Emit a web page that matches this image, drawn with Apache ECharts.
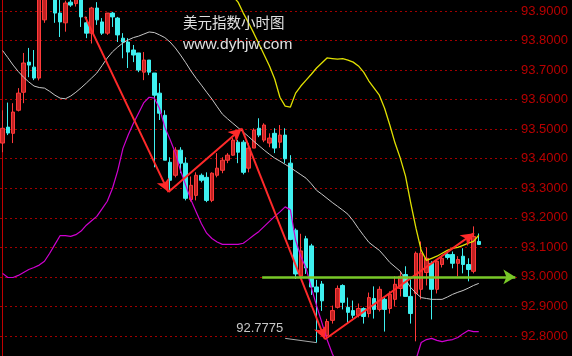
<!DOCTYPE html>
<html><head><meta charset="utf-8">
<script src="https://cdn.jsdelivr.net/npm/echarts@6/dist/echarts.min.js"></script>
<style>html,body{margin:0;padding:0;background:#000}#c{width:572px;height:356px}</style>
</head><body><div id="c"></div><script>
// ---------- data ----------
const categoryCount = 99;
const categories = Array.from({length: categoryCount}, (_, i) => 'H' + (i + 1));

// [open, close, low, high]
const candles = [
[93.453,93.503,93.422,93.564],[93.507,93.487,93.480,93.590],[93.486,93.558,93.453,93.588],[93.564,93.622,93.560,93.639],
[93.625,93.724,93.588,93.758],[93.727,93.717,93.676,93.775],[93.710,93.673,93.666,93.768],[93.673,93.960,93.665,94.000],
[93.870,93.950,93.860,93.980],[93.960,94.000,93.945,94.030],[93.960,93.893,93.860,93.990],[93.893,93.863,93.812,93.950],
[93.860,93.927,93.830,93.935],[93.930,93.920,93.914,93.970],[93.925,93.960,93.915,93.990],[93.950,93.880,93.846,93.980],
[93.860,93.825,93.808,93.880],[93.825,93.910,93.790,93.914],[93.910,93.870,93.853,93.930],[93.863,93.825,93.819,93.876],
[93.825,93.893,93.819,93.893],[93.893,93.880,93.846,93.897],[93.876,93.819,93.795,93.880],[93.808,93.795,93.740,93.825],
[93.795,93.761,93.707,93.808],[93.768,93.751,93.727,93.785],[93.758,93.700,93.693,93.758],[93.693,93.734,93.666,93.761],
[93.734,93.693,93.683,93.734],[93.690,93.615,93.371,93.690],[93.622,93.554,93.531,93.656],[93.547,93.395,93.395,93.564],
[93.388,93.327,93.293,93.405],[93.344,93.429,93.337,93.439],[93.429,93.385,93.351,93.439],[93.385,93.266,93.259,93.405],
[93.262,93.310,93.255,93.340],[93.276,93.344,93.259,93.354],[93.344,93.327,93.320,93.350],[93.337,93.259,93.253,93.354],
[93.259,93.351,93.253,93.354],[93.344,93.368,93.337,93.419],[93.361,93.395,93.351,93.405],[93.395,93.412,93.385,93.419],
[93.412,93.463,93.410,93.470],[93.456,93.422,93.385,93.463],[93.456,93.354,93.347,93.463],[93.368,93.436,93.354,93.453],
[93.436,93.497,93.436,93.503],[93.503,93.480,93.473,93.537],[93.463,93.514,93.456,93.520],[93.453,93.470,93.439,93.486],
[93.486,93.436,93.419,93.503],[93.456,93.480,93.436,93.514],[93.480,93.400,93.385,93.503],[93.385,93.127,93.124,93.412],
[93.158,93.010,92.993,93.164],[93.003,93.088,92.993,93.146],[93.129,93.030,93.010,93.139],[93.105,92.966,92.939,93.112],
[92.966,92.949,92.7775,92.990],[92.976,92.919,92.885,92.986],[92.802,92.849,92.792,92.858],[92.853,92.886,92.842,92.903],
[92.897,92.961,92.893,92.971],[92.971,92.914,92.890,92.975],[92.897,92.880,92.842,92.930],[92.886,92.870,92.860,92.920],
[92.870,92.893,92.863,92.910],[92.893,92.866,92.842,92.897],[92.876,92.930,92.863,92.947],[92.927,92.890,92.859,92.968],
[92.890,92.958,92.883,92.968],[92.924,92.890,92.815,92.930],[92.893,92.941,92.876,92.951],[92.924,92.975,92.900,93.002],
[92.961,93.002,92.934,93.019],[93.008,92.934,92.934,93.036],[92.934,92.876,92.842,92.992],[92.944,93.080,92.782,93.086],
[92.958,93.080,92.924,93.120],[93.015,93.063,92.971,93.100],[93.046,92.958,92.856,93.053],[92.958,93.053,92.944,93.059],
[93.042,93.063,93.032,93.073],[93.076,93.066,93.059,93.080],[93.076,93.046,93.029,93.086],[93.046,93.059,93.002,93.070],
[93.070,93.042,93.012,93.097],[93.042,93.025,92.985,93.063],[93.019,93.137,93.012,93.171],[93.120,93.110,93.110,93.147]
];

// Bollinger-style bands
const midBand = [
93.766,93.742,93.717,93.695,93.676,93.660,93.646,93.641,93.639,93.628,93.615,93.605,93.603,93.612,93.625,93.640,
93.656,93.673,93.690,93.715,93.741,93.762,93.778,93.792,93.802,93.810,93.815,93.822,93.829,93.827,93.819,93.810,
93.795,93.775,93.751,93.725,93.697,93.672,93.649,93.625,93.602,93.576,93.551,93.535,93.520,93.505,93.490,93.475,
93.459,93.444,93.429,93.415,93.402,93.392,93.381,93.370,93.358,93.346,93.334,93.315,93.293,93.280,93.266,93.252,
93.239,93.226,93.212,93.190,93.164,93.140,93.117,93.103,93.090,93.070,93.049,93.034,93.019,92.990,92.964,92.945,
92.930,92.927,92.924,92.924,92.924,92.932,92.941,92.948,92.954,92.962,92.971,92.978
];
const upperStart = 43;
const upperBand = [
93.975,93.950,93.930,93.893,93.860,93.825,93.788,93.751,93.714,93.670,93.608,93.578,93.575,93.622,93.646,93.666,
93.686,93.707,93.724,93.741,93.739,93.737,93.739,93.734,93.727,93.714,93.693,93.663,93.639,93.615,93.571,93.514,
93.453,93.402,93.341,93.250,93.165,93.090,93.056,93.063,93.070,93.080,93.090,93.097,93.100,93.107,93.114,93.120,93.141
];
const lowerBand = [
93.012,92.998,92.998,93.005,93.015,93.025,93.032,93.040,93.053,93.080,93.110,93.140,93.140,93.137,93.143,93.155,
93.175,93.190,93.205,93.230,93.256,93.300,93.360,93.435,93.480,93.520,93.555,93.590,93.608,93.605,93.570,93.507,
93.465,93.420,93.360,93.310,93.260,93.220,93.180,93.148,93.130,93.118,93.110,93.110,93.110,93.110,93.114,93.127,
93.141,93.154,93.171,93.188,93.205,93.220,93.237,93.227,93.124,93.069,93.029,92.964,92.903,92.846,92.788,92.741,
92.700,92.665,92.635,92.610,92.590,92.575,92.565,92.560,92.565,92.575,92.590,92.610,92.630,92.655,92.675,92.720,
92.778,92.788,92.792,92.785,92.781,92.785,92.788,92.795,92.808,92.819,92.815,92.815
];

// price axis
const priceMin = 92.8, priceMax = 93.9, priceStep = 0.1;

// annotations (category position, price)
const trendPoints = [[15.75,93.881],[31.7,93.287],[45.7,93.502],[61.6,92.789],[90.1,93.148]];
const levelPrice = 93.0, levelFrom = 49.6, levelTo = 98.0;
const lowIndex = 60;
const lowLeaderStart = [54.0, 92.792];
const titleText = '美元指数小时图';
const siteText = 'www.dyhjw.com';

// ---------- layout ----------
const W = 572, H = 356, gridTop = 11, gridBottom = 20, gridRight = 54;
const pxPerUnit = (H - gridTop - gridBottom) / (priceMax - priceMin);
// full-height overlay axis sharing the same price scale
const fullMin = priceMin - gridBottom / pxPerUnit;
const fullMax = priceMax + gridTop / pxPerUnit;

// ---------- chart ----------
const chart = echarts.init(document.getElementById('c'));
const trendSegments = [];
for (let k = 0; k < trendPoints.length - 1; k++) {
  trendSegments.push([{coord: trendPoints[k]}, {coord: trendPoints[k + 1]}]);
}
const lowValue = candles[lowIndex][2];
const ov = {xAxisIndex: 2, yAxisIndex: 1};

chart.setOption({
  animation: false,
  backgroundColor: '#000000',
  title: [
    {text: titleText, left: 183, top: 15, padding: 0,
     textStyle: {color: '#e0e0e0', fontSize: 14.5, fontWeight: 'normal', fontFamily: 'Noto Sans CJK SC'}},
    {text: siteText, left: 183, top: 37, padding: 0,
     textStyle: {color: '#e0e0e0', fontSize: 15.5, fontWeight: 'normal', fontFamily: 'Liberation Sans'}}
  ],
  grid: [
    {left: 0, right: gridRight, top: gridTop, bottom: gridBottom},
    {left: 0, right: gridRight, top: 0, bottom: 0}
  ],
  xAxis: [
    {type: 'category', data: categories, gridIndex: 0, show: false, boundaryGap: true},
    {type: 'value', gridIndex: 0, min: -0.5, max: categoryCount - 0.5, show: false},
    {type: 'value', gridIndex: 1, min: -0.5, max: categoryCount - 0.5, show: false}
  ],
  yAxis: [
    {type: 'value', gridIndex: 0, position: 'right', min: priceMin, max: priceMax, interval: priceStep,
     axisLine: {show: false}, axisTick: {show: false},
     axisLabel: {color: '#b80000', fontSize: 13, fontFamily: 'Liberation Sans', margin: 3,
                 padding: [8, 0, 0, 0], formatter: v => v.toFixed(4)},
     splitLine: {show: true, lineStyle: {color: '#a00000', width: 1, type: [2, 3]}}},
    {type: 'value', gridIndex: 1, position: 'right', min: fullMin, max: fullMax,
     axisLine: {show: true, lineStyle: {color: '#c00000', width: 1}},
     axisTick: {show: false}, axisLabel: {show: false}, splitLine: {show: false}}
  ],
  series: [
    {type: 'candlestick', xAxisIndex: 0, yAxisIndex: 0, data: candles, barWidth: 4, clip: false,
     itemStyle: {color: '#c02222', color0: '#3ff0f0', borderColor: '#ff3a3a', borderColor0: '#3ff0f0', borderWidth: 1}},
    {type: 'line', xAxisIndex: 0, yAxisIndex: 0, data: midBand, symbol: 'none', clip: false,
     lineStyle: {color: '#c8c8c8', width: 1}},
    {type: 'line', xAxisIndex: 0, yAxisIndex: 0, data: upperBand.map((v, k) => [upperStart + k, v]),
     symbol: 'none', clip: false, lineStyle: {color: '#e0e000', width: 1.3}},
    {type: 'line', xAxisIndex: 0, yAxisIndex: 0, data: lowerBand, symbol: 'none', clip: false,
     lineStyle: {color: '#d000d0', width: 1.2}},
    Object.assign({type: 'line', data: trendPoints, symbol: 'none', clip: false,
     lineStyle: {opacity: 0}, silent: true,
     markLine: {silent: true, symbol: ['none', 'arrow'], symbolSize: [10, 13], precision: 4,
                label: {show: false}, lineStyle: {color: '#ff2a2a', width: 2, type: 'solid'},
                emphasis: {disabled: true}, data: trendSegments}}, ov),
    Object.assign({type: 'line', data: [[levelFrom, levelPrice], [levelTo, levelPrice]],
     symbol: 'none', clip: false, lineStyle: {opacity: 0}, silent: true,
     markLine: {silent: true, symbol: ['none', 'arrow'], symbolSize: [11, 12],
                label: {show: false}, lineStyle: {color: '#78c828', width: 2.5, type: 'solid'},
                emphasis: {disabled: true},
                data: [[{coord: [levelFrom, levelPrice]}, {coord: [levelTo, levelPrice]}]]}}, ov),
    Object.assign({type: 'line', data: [lowLeaderStart, [lowIndex, lowValue]],
     symbol: 'none', clip: false, lineStyle: {opacity: 0}, silent: true,
     markLine: {silent: true, symbol: ['none', 'none'], lineStyle: {color: '#a8a8a8', width: 1, type: 'solid'},
                emphasis: {disabled: true},
                label: {show: true, position: 'start', distance: 2, offset: [0, -10],
                        color: '#c8c8c8', fontSize: 13, fontFamily: 'Liberation Sans',
                        formatter: () => lowValue.toFixed(4)},
                data: [[{coord: lowLeaderStart}, {coord: [lowIndex, lowValue]}]]}}, ov)
  ]
});
</script></body></html>
